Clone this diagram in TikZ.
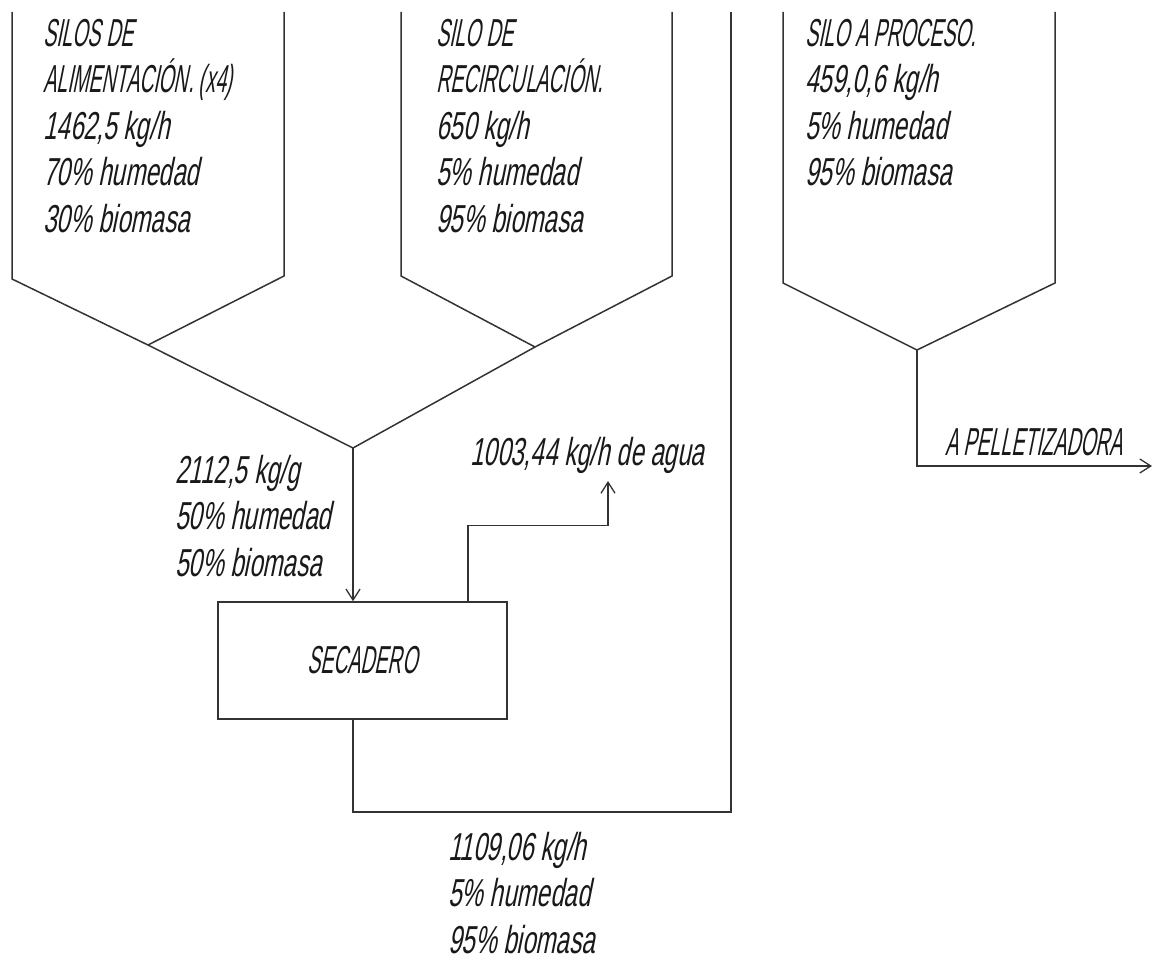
\documentclass[tikz,border=0pt]{standalone}
\usepackage{fontspec}
\setmainfont{Liberation Sans}
\newfontfamily\isofont{Liberation Sans}[FakeSlant=0.2,FakeStretch=0.62]
\newfontfamily\isocaps{Liberation Sans}[FakeSlant=0.2,FakeStretch=0.5]
\usetikzlibrary{arrows.meta}
\begin{document}
\begin{tikzpicture}[x=1pt,y=-1pt,
  line/.style={draw=black!80,line width=1.5pt},
  flow/.style={line,-{Straight Barb[length=11pt,width=14pt,line width=1.3pt]}},
  lbl/.style={font=\isofont\fontsize{39}{46.5}\selectfont,align=left,inner sep=0pt,anchor=north west,text=black!90},
  unit/.style={draw=black!80,line width=1.5pt,minimum width=289pt,minimum height=117pt,inner sep=0pt,font=\isocaps\fontsize{39}{46.5}\selectfont,text=black!90}]
\useasboundingbox (0,0) rectangle (1159,960);
% junction points
\coordinate (j1) at (148,345);
\coordinate (j2) at (535,347);
\coordinate (j3) at (917,350);
\coordinate (mix) at (353,448);
\coordinate (vapx) at (468,0);
\coordinate (vap) at (608,481);
\coordinate (col) at (731,12);
\coordinate (pel) at (1152,466);
% silos
\draw[line] (12,12) -- (12,279) -- (j1) -- (284,276) -- (284,12);
\draw[line] (401,12) -- (401,276) -- (j2) -- (672,276) -- (672,12);
\draw[line] (783,12) -- (783,283) -- (j3) -- (1055,283) -- (1055,12);
\draw[line] (j1) -- (mix) -- (j2);
% dryer
\node[unit] (sec) at (362.5,660.5) {SECADERO\hspace{25pt}};
% connectors
\draw[flow] (mix) -- (sec.north -| mix);
\draw[flow] (sec.north -| vapx) -- ++(0,-76) -| (vap);
\draw[line] (sec.south -| mix) -- ++(0,92) -| (col);
\draw[flow] (j3) |- (pel);
% labels
\node[lbl] (t1) at (43,19) {\isocaps SILOS DE\\\isocaps ALIMENTACIÓN. (x4)\\\isofont 1462,5 kg/h\\\isofont 70\% humedad\\\isofont 30\% biomasa};
\node[lbl] (t2) at (436,19) {\isocaps SILO DE\\\isocaps RECIRCULACIÓN.\\\isofont 650 kg/h\\\isofont 5\% humedad\\\isofont 95\% biomasa};
\node[lbl] (t3) at (805,19) {\isocaps SILO A PROCESO.\\\isofont 459,0,6 kg/h\\\isofont 5\% humedad\\\isofont 95\% biomasa};
\node[lbl] (t4) at (175,455) {2112,5 kg/g\\50\% humedad\\50\% biomasa};
\node[lbl] (t5) at (470,437) {1003,44 kg/h de agua};
\node[lbl] (t6) at (945,428) {\isocaps A PELLETIZADORA};
\node[lbl] (t7) at (448,832) {1109,06 kg/h\\5\% humedad\\95\% biomasa};
\end{tikzpicture}
\end{document}
